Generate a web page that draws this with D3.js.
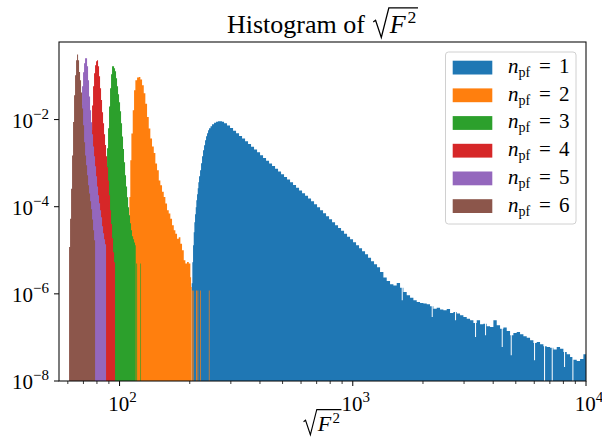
<!DOCTYPE html>
<html><head><meta charset="utf-8">
<script src="https://cdn.jsdelivr.net/npm/d3@7"></script>
<style>body{margin:0;background:#fff}svg{display:block}</style>
</head><body><svg id="c" width="602" height="438"></svg>
<script>
// ---------------- data ----------------
const seriesNames = ["1","2","3","4","5","6"];
const seriesColors = ["#1f77b4","#ff7f0e","#2ca02c","#d62728","#9467bd","#8c564b"];
const xMajorTicks = [100,1000,10000];
const xMajorLabels = ["2","3","4"];
const xMinorTicks = [60,70,80,90,200,300,400,500,600,700,800,900,2000,3000,4000,5000,6000,7000,8000,9000];
const yMajorTicks = [1e-8,1e-6,1e-4,1e-2];
const yMajorLabels = ["\u22128","\u22126","\u22124","\u22122"];

// n_pf = 1
const edges1 = [203.9,205.2,206.6,208.0,209.3,210.7,212.2,213.4,214.9,216.4,217.7,219.2,221.4,223.6,225.8,228.0,230.3,232.6,234.9,237.2,239.6,241.9,245.5,249.2,254.2,259.3,264.4,269.7,275.1,280.6,289.0,297.7,306.7,315.9,325.4,335.2,345.3,355.6,366.3,377.3,388.7,400.4,412.4,424.8,437.6,450.7,464.3,478.2,492.6,507.4,522.6,538.4,554.5,571.2,588.4,606.1,624.3,643.0,662.4,682.3,702.8,723.9,745.7,768.1,791.2,815.0,839.5,864.7,890.7,917.5,945.1,973.5,1002.7,1032.9,1063.9,1095.9,1128.8,1162.8,1197.7,1233.7,1270.8,1309.0,1352.8,1398.1,1444.9,1493.2,1543.2,1594.8,1621.3,1637.4,1648.2,1703.3,1760.3,1819.2,1880.1,1943.0,2008.0,2075.2,2144.6,2180.2,2201.8,2216.4,2290.5,2367.2,2446.4,2528.2,2612.8,2700.2,2745.0,2772.2,2790.6,2883.9,2980.4,3080.2,3183.2,3289.7,3344.3,3377.5,3399.8,3513.5,3631.1,3691.3,3727.9,3752.6,3878.1,4007.9,4142.0,4280.6,4351.6,4394.8,4423.8,4571.8,4724.8,4756.0,4803.2,4882.9,5046.3,5215.1,5389.6,5569.9,5756.3,5948.9,5988.2,6047.6,6147.9,6353.6,6566.2,6609.5,6675.1,6785.9,7013.0,7129.3,7200.0,7247.6,7490.1,7740.7,7999.7,8052.5,8132.4,8267.4,8544.0,8743.1,8829.9,9125.3,9430.6,9746.2,10000];
const counts1 = [1.75e-6,5.3e-6,1.3e-5,2.6e-5,4.4e-5,6.7e-5,9.7e-5,1.40e-4,1.93e-4,2.65e-4,3.63e-4,5.0e-4,6.85e-4,9.9e-4,1.44e-3,1.97e-3,2.57e-3,3.35e-3,4.13e-3,4.84e-3,5.68e-3,6.31e-3,7.01e-3,7.79e-3,8.44e-3,8.89e-3,9.13e-3,9.13e-3,8.89e-3,8.21e-3,7.27e-3,6.37e-3,5.56e-3,4.84e-3,4.22e-3,3.66e-3,3.17e-3,2.75e-3,2.38e-3,2.07e-3,1.79e-3,1.51e-3,1.31e-3,1.14e-3,9.87e-4,8.56e-4,7.42e-4,6.43e-4,5.58e-4,4.83e-4,4.19e-4,3.63e-4,3.15e-4,2.73e-4,2.37e-4,2.05e-4,1.78e-4,1.54e-4,1.33e-4,1.14e-4,9.70e-5,8.27e-5,7.06e-5,6.03e-5,5.14e-5,4.39e-5,3.75e-5,3.25e-5,2.79e-5,2.40e-5,2.05e-5,1.79e-5,1.53e-5,1.30e-5,1.11e-5,9.48e-6,8.09e-6,6.72e-6,5.59e-6,4.77e-6,4.07e-6,3.18e-6,2.36e-6,1.98e-6,1.66e-6,1.55e-6,1.78e-6,1.39e-6,7.11e-7,1.39e-6,1.105e-6,9.27e-7,8.19e-7,7.11e-7,6.51e-7,6.18e-7,5.97e-7,5.76e-7,5.18e-7,2.95e-7,5.18e-7,4.58e-7,4.83e-7,4.35e-7,4.19e-7,4.50e-7,3.64e-7,3.84e-7,2.47e-7,3.84e-7,3.52e-7,3.22e-7,2.95e-7,2.70e-7,2.47e-7,2.15e-7,1.02e-7,2.15e-7,2.47e-7,2.00e-7,2.07e-7,1.12e-7,2.07e-7,1.80e-7,1.74e-7,2.47e-7,1.90e-7,1.59e-7,6.04e-8,1.59e-7,1.68e-7,1.41e-7,1.12e-7,3.89e-8,1.12e-7,1.27e-7,1.33e-7,1.18e-7,1.06e-7,9.89e-8,8.59e-8,7.46e-8,2.99e-8,7.46e-8,7.87e-8,6.96e-8,6.26e-8,0,6.26e-8,6.04e-8,5.83e-8,0,5.83e-8,5.25e-8,6.04e-8,5.53e-8,4.64e-8,2.10e-8,4.64e-8,4.10e-8,3.56e-8,0,3.09e-8,2.88e-8,3.20e-8,4.10e-8];

// n_pf = 2
const edges2 = [110.2,111.2,112.4,113.9,115.4,116.9,118.9,120.9,122.8,124.9,127.0,129.0,131.2,133.4,135.5,137.8,140.2,142.4,144.8,147.3,149.6,152.1,154.7,157.2,159.8,162.5,165.1,167.9,170.8,173.5,176.4,179.4,182.3,185.3,188.5,191.5,194.7,198.0,201.2,202.6,203.8,204.6,206.0,207.4,208.6,212.8,214.5,216.0,217.5,221.4,222.9,241.5,243.1];
const counts2 = [1.67e-4,1.16e-3,4.8e-3,0.0163,0.047,0.080,0.092,0.095,0.083,0.061,0.040,0.023,0.0115,0.0062,0.0037,0.0024,0.0017,9.8e-4,6.9e-4,4.0e-4,3.1e-4,2.2e-4,1.67e-4,1.18e-4,8.3e-5,7.0e-5,5.3e-5,3.75e-5,2.9e-5,2.4e-5,1.85e-5,2.0e-5,1.42e-5,1.0e-5,5.9e-6,4.95e-6,5.4e-6,4.95e-6,2.4e-6,1.44e-6,0,1.2e-6,0,1.2e-6,0,1.2e-6,0,1.2e-6,0,1.2e-6,0,1.2e-6];

// n_pf = 3
const edges3 = [84.13,84.97,85.81,86.66,87.52,88.39,89.27,90.15,91.05,91.95,92.86,93.78,94.72,95.65,96.60,97.56,98.53,99.51,100.5,101.5,102.5,103.5,104.5,105.6,106.6,107.7,108.8,109.8,110.9,112.0,113.1,114.3,115.4,116.5,117.3,118.0,118.9,122.8,123.6];
const counts3 = [1.24e-5,3.75e-5,1.08e-4,3.1e-4,8.5e-4,2.2e-3,6.3e-3,0.020,0.052,0.109,0.167,0.167,0.150,0.128,0.089,0.058,0.038,0.025,0.0155,0.0082,0.0041,0.0021,0.00105,5.3e-4,2.9e-4,1.65e-4,9.7e-5,6.4e-5,4.2e-5,2.9e-5,2.1e-5,1.8e-5,1.5e-5,1.3e-5,0,5.0e-6,0,5.0e-6];

// n_pf = 4
const edges4 = [72.56,73.28,74.00,74.74,75.48,76.23,76.98,77.75,78.52,79.30,80.08,80.88,81.68,82.49,83.31,84.13,84.97,85.81,86.66,87.52,88.39,89.27,90.15,91.05,91.95,92.86,93.78,94.72,95.65];
const counts4 = [1.24e-5,4.9e-5,2.4e-4,1.16e-3,5.7e-3,0.021,0.058,0.115,0.176,0.218,0.230,0.167,0.099,0.052,0.028,0.0147,0.0082,0.0046,0.0026,0.00144,8.0e-4,4.0e-4,1.83e-4,8.3e-5,4.0e-5,1.9e-5,9.0e-6,5.3e-6];

// n_pf = 5
const edges5 = [65.09,65.74,66.39,67.05,67.71,68.38,69.06,69.75,70.44,71.14,71.84,72.56,73.28,74.00,74.74,75.48,76.23,76.98,77.75,78.52,79.30,80.08,80.88,81.68,82.49,83.31,84.13,84.97,85.81,86.66,87.52];
const counts5 = [1.24e-5,4.9e-5,2.4e-4,1.16e-3,5.7e-3,0.021,0.058,0.122,0.196,0.255,0.255,0.167,0.080,0.034,0.0163,0.0087,0.0046,0.0024,0.00144,8.5e-4,5.0e-4,2.9e-4,1.83e-4,1.2e-4,8.3e-5,5.7e-5,3.55e-5,2.45e-5,1.8e-5,1.37e-5];

// n_pf = 6
const edges6 = [60.75,61.35,61.96,62.57,63.19,63.82,64.45,65.09,65.74,66.39,67.05,67.71,68.38,69.06,69.75,70.44,71.14,71.84,72.56,73.28,74.00,74.74,75.48,76.23,76.98,77.75,78.52];
const counts6 = [1.19e-5,5.3e-5,2.6e-4,1.5e-3,8.8e-3,0.036,0.104,0.23,0.31,0.23,0.124,0.080,0.042,0.018,0.0074,0.0030,0.0015,8.9e-4,5.3e-4,3.1e-4,2.0e-4,1.33e-4,8.7e-5,5.1e-5,2.9e-5,1.7e-5];

const allEdges = [edges1,edges2,edges3,edges4,edges5,edges6];
const allCounts = [counts1,counts2,counts3,counts4,counts5,counts6];

// ---------------- layout ----------------
const FONT = "'Liberation Serif','DejaVu Serif',serif";
const L = 59, R = 586, T = 42, B = 381;
const svg = d3.select("#c");
const x = d3.scaleLog().domain([55, 10000]).range([L, R]);
const y = d3.scaleLog().domain([1e-8, 0.603]).range([B, T]);

svg.append("defs").append("clipPath").attr("id","plotclip")
  .append("rect").attr("x",L).attr("y",T).attr("width",R-L).attr("height",B-T);

const plot = svg.append("g").attr("clip-path","url(#plotclip)");
const yv = v => v > 0 ? Math.min(B, y(Math.max(v, 1e-9))) : B;
const area = d3.area().curve(d3.curveStepAfter)
  .x(d => x(d[0])).y0(B).y1(d => yv(d[1]));

allEdges.forEach((ed, i) => {
  const c = allCounts[i];
  const pts = c.map((v, k) => [ed[k], v]);
  pts.push([ed[ed.length-1], c[c.length-1]]);
  plot.append("path").attr("d", area(pts)).attr("fill", seriesColors[i]).attr("stroke","none");
});

// ticks
const axG = svg.append("g").attr("stroke","#000");
xMajorTicks.forEach(t => axG.append("line").attr("x1",x(t)).attr("x2",x(t)).attr("y1",B).attr("y2",B+5).attr("stroke-width",1));
xMinorTicks.forEach(t => axG.append("line").attr("x1",x(t)).attr("x2",x(t)).attr("y1",B).attr("y2",B+3).attr("stroke-width",0.8));
yMajorTicks.forEach(t => axG.append("line").attr("x1",L-5).attr("x2",L).attr("y1",y(t)).attr("y2",y(t)).attr("stroke-width",1));

// frame
svg.append("rect").attr("x",L).attr("y",T).attr("width",R-L).attr("height",B-T)
  .attr("fill","none").attr("stroke","#111").attr("stroke-width",1.1);

// tick labels
function powLabel(g, px, py, sup, anchor){
  const t = g.append("text").attr("x",px).attr("y",py).attr("text-anchor",anchor)
    .attr("font-family",FONT).attr("font-size",21).attr("fill","#000");
  t.append("tspan").text("10");
  t.append("tspan").attr("font-size",15).attr("dy",-9).text(sup);
  return t;
}
xMajorTicks.forEach((t,i) => powLabel(svg, x(t)+3, 411, xMajorLabels[i], "middle"));
yMajorTicks.forEach((t,i) => powLabel(svg, 49, y(t)+8, yMajorLabels[i], "end"));

// sqrt(F^2) helper: drawn at x=0 inside a group, returns {grp, width}
function sqrtF2(g, base, s){
  const grp = g.append("g");
  const radW = s*0.64;
  const fT = grp.append("text").attr("font-family",FONT).attr("font-size",s).attr("font-style","italic")
    .attr("x", radW).attr("y",base).text("F");
  const fw = fT.node().getComputedTextLength();
  const sT = grp.append("text").attr("font-family",FONT).attr("font-size",s*0.68)
    .attr("x", radW + fw + s*0.07).attr("y",base - s*0.38).text("2");
  const sw = sT.node().getComputedTextLength();
  const total = radW + fw + s*0.07 + sw + s*0.06;
  const top = base - s*0.97;
  const p = d3.path();
  p.moveTo(0, base - s*0.42);
  p.lineTo(s*0.09, base - s*0.49);
  p.lineTo(s*0.31, base + s*0.17);
  p.lineTo(s*0.60, top);
  p.lineTo(total, top);
  grp.append("path").attr("d", p.toString()).attr("fill","none").attr("stroke","#000")
    .attr("stroke-width", s*0.05).attr("stroke-linejoin","miter");
  return {grp, width: total};
}

// title
const titleSize = 26, titleBase = 33;
const tt = svg.append("text").attr("font-family",FONT).attr("font-size",titleSize).attr("y",titleBase).text("Histogram of");
const tw = tt.node().getComputedTextLength();
const tsq = sqrtF2(svg, titleBase, titleSize);
const gap = titleSize*0.32;
const tStart = (L+R)/2 - (tw + gap + tsq.width)/2;
tt.attr("x", tStart);
tsq.grp.attr("transform", `translate(${tStart + tw + gap},0)`);

// x label
const xl = sqrtF2(svg, 431, 22);
xl.grp.attr("transform", `translate(${(L+R)/2 - xl.width/2},0)`);

// legend
const lg = svg.append("g");
lg.append("rect").attr("x",445.5).attr("y",52).attr("width",130.5).attr("height",172).attr("rx",3)
  .attr("fill","#fff").attr("fill-opacity",0.8).attr("stroke","#d0d0d0").attr("stroke-width",1);
seriesNames.forEach((n,i) => {
  const top = 60.7 + i*27.7;
  lg.append("rect").attr("x",452.7).attr("y",top).attr("width",39.6).attr("height",13.8).attr("fill",seriesColors[i]);
  const base = top + 12.3;
  lg.append("text").attr("x",508).attr("y",base).attr("font-family",FONT).attr("font-size",21).attr("font-style","italic").text("n");
  lg.append("text").attr("x",518.5).attr("y",base+4).attr("font-family",FONT).attr("font-size",14).text("pf");
  lg.append("text").attr("x",539).attr("y",base).attr("font-family",FONT).attr("font-size",21).text("=");
  lg.append("text").attr("x",559).attr("y",base).attr("font-family",FONT).attr("font-size",21).text(n);
});
</script>
</body></html>
